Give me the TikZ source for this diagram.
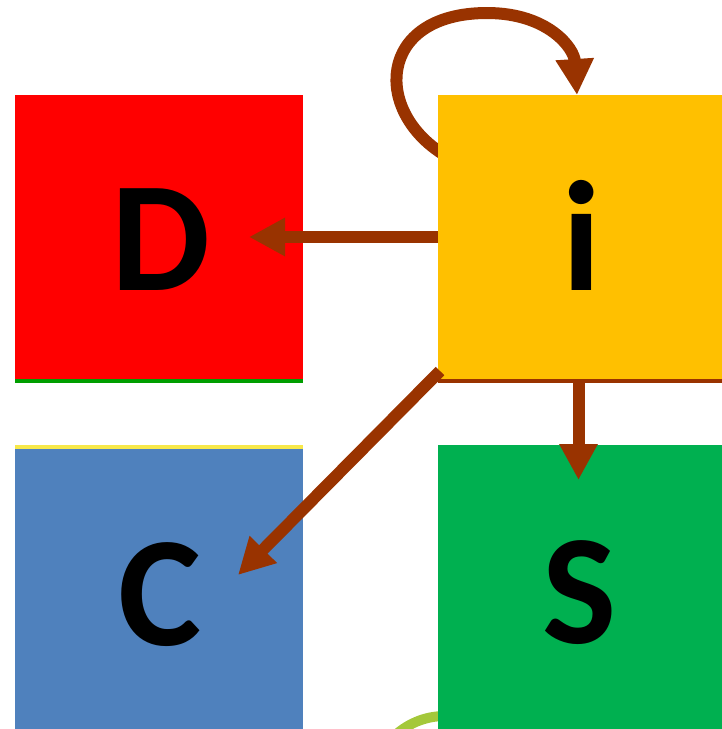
\documentclass[tikz,border=0pt]{standalone}
\usepackage{fontspec}
\setmainfont{Carlito}
\usetikzlibrary{arrows.meta,calc}
\definecolor{boxred}{HTML}{FF0000}
\definecolor{boxorange}{HTML}{FFC000}
\definecolor{boxblue}{HTML}{4F81BD}
\definecolor{boxgreen}{HTML}{00B050}
\definecolor{arrowbrown}{HTML}{993300}
\definecolor{rimgreen}{HTML}{009E00}
\definecolor{rimyellow}{HTML}{F7E84A}
\definecolor{leafgreen}{HTML}{A4C83A}
\pgfdeclarelayer{bg}
\pgfsetlayers{bg,main}
\tikzset{
  tile/.style={draw=none, inner sep=0pt, outer sep=0pt},
  letter/.style={anchor=base, inner sep=0pt,
    font=\fontsize{157}{157}\selectfont\bfseries, text=black},
  flow/.style={draw=arrowbrown, line width=12pt,
    -{Triangle[length=36pt,width=36pt]}, arrowbrown},
}
\begin{document}
\begin{tikzpicture}[x=1pt,y=-1pt]
  \useasboundingbox (0,0) rectangle (722,729);
  \clip (0,0) rectangle (722,729);

  % partial green ring peeking out at the bottom
  \draw[leafgreen, line width=10pt] (445,790) circle[radius=74];

  % the four tiles
  \node[tile, fill=boxred, minimum width=288pt, minimum height=288pt] (D) at (159,239) {};
  \node[tile, fill=boxorange, minimum width=284pt, minimum height=288pt] (i) at (580,239) {};
  \node[tile, fill=boxblue, minimum width=288pt, minimum height=284pt] (C) at (159,587) {};
  \node[tile, fill=boxgreen, minimum width=284pt, minimum height=284pt] (S) at (580,587) {};

  % thin coloured rims
  \fill[rimgreen] ([yshift=4pt]D.south west) rectangle (D.south east);
  \fill[arrowbrown] ([yshift=4pt]i.south west) rectangle (i.south east);
  \fill[rimyellow] (C.north west) rectangle ([yshift=-4pt]C.north east);

  % letters
  \node[letter] (Dt) at (161,290) {D};
  \node[letter] (it) at (582,290) {i};
  \node[letter] (Ct) at (160,645) {C};
  \node[letter] (St) at (580,643) {S};

  % self loop, passing behind the i tile
  \begin{pgfonlayer}{bg}
    \draw[flow] ([xshift=10pt,yshift=-62pt]i.north west)
      .. controls (372,114) and (376,13) .. (487,13)
      .. controls (548,13) and (574,48) .. ([xshift=-3pt]i.north);
  \end{pgfonlayer}

  % outgoing arrows
  \draw[flow] ([yshift=2pt]i.west) -- ([xshift=-54pt,yshift=2pt]D.east);
  \draw[flow] ([xshift=-1.5pt]i.south) -- ([xshift=-1.5pt,yshift=-35pt]S.north);
  \draw[flow] ([xshift=2pt,yshift=12pt]i.south west) -- ($(C.center)+(79,-12)$);
\end{tikzpicture}
\end{document}
